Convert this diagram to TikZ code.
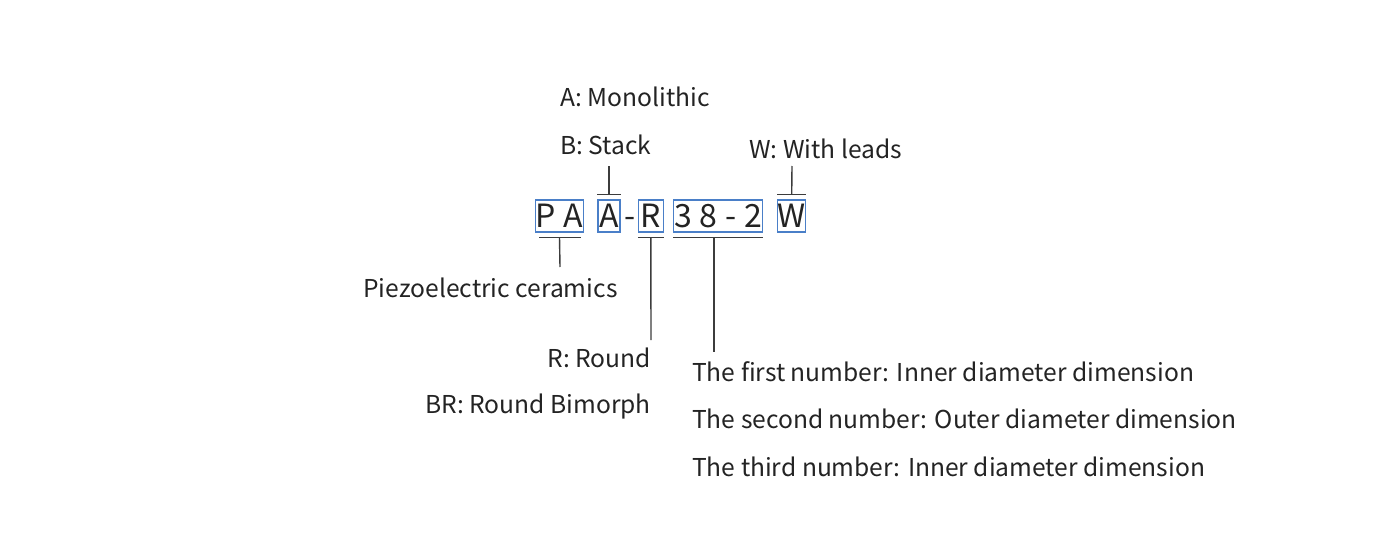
\documentclass[tikz,border=0pt]{standalone}
\usepackage{fontspec}
\setmainfont{Noto Sans CJK SC}
\usetikzlibrary{calc}
\definecolor{boxblue}{RGB}{74,127,200}
\definecolor{leadgray}{RGB}{60,60,60}
\definecolor{inkgray}{RGB}{35,35,35}
\def\gap{\kern8pt}

\begin{document}
\begin{tikzpicture}[x=1pt,y=-1pt,
	code/.style={draw=boxblue, line width=1.1pt, inner sep=0pt, minimum height=32pt, text=inkgray, font=\fontsize{32}{32}\selectfont},
	lbl/.style={inner sep=0pt, text=inkgray, font=\fontsize{24.6}{28}\selectfont},
	lead/.style={leadgray, line width=1.4pt}]
		\useasboundingbox (0,0) rectangle (1396,543);
		%%%%% CODE %%%%%
		\node[code, minimum width=45pt] (pa) at (559.5,216) {P\gap A};
		\node[code, minimum width=22pt] (a) at (609,216) {A};
		\node[inner sep=0pt, text=inkgray, font=\fontsize{32}{32}\selectfont, anchor=base] (dash) at (630,227.5) {-};
		\node[code, minimum width=25pt] (r) at (650.8,216) {R};
		\node[code, minimum width=89pt] (num) at (718.3,216) {3\gap 8\gap -\gap 2};
		\node[code, minimum width=28pt] (w) at (791.7,216) {W};
		
		%%%%% LABELS %%%%%
		\node[lbl, anchor=base west] (mono) at (560,106.7) {A: Monolithic};
		\node[lbl, anchor=base west] (stack) at (560,154) {B: Stack};
		\node[lbl, anchor=base west] (leads) at (749,158.3) {W: With leads};
		\node[lbl, anchor=base west] (piezo) at (363,297.3) {Piezoelectric ceramics};
		\node[lbl, anchor=base east] (round) at (651,367.3) {R: Round};
		\node[lbl, anchor=base east] (bimorph) at (651,413.3) {BR: Round Bimorph};
		\node[lbl, anchor=base west] (first) at (692,381) {The first number: Inner diameter dimension};
		\node[lbl, anchor=base west] (second) at (692,428.5) {The second number: Outer diameter dimension};
		\node[lbl, anchor=base west] (third) at (692,476.5) {The third number: Inner diameter dimension};
		
		%%%%% LEADS %%%%%
		\coordinate (a end) at (609,166);
		\coordinate (w end) at (792,166);
		\coordinate (pa end) at (560,267);
		\coordinate (r end) at (651,340);
		\coordinate (num end) at (714,352);
		
		\draw[lead] ([yshift=5pt]a.north west) -- ([yshift=5pt]a.north east);
		\draw[lead] ([yshift=5pt]a.north) -- (a end);
		\draw[lead] ([yshift=5pt]w.north west) -- ([yshift=5pt]w.north east);
		\draw[lead] ([yshift=5pt]w.north) -- (w end);
		
		\draw[lead] ([xshift=4pt,yshift=-5pt]pa.south west) -- ([xshift=-3pt,yshift=-5pt]pa.south east);
		\draw[lead] ([yshift=-5pt]pa.south) -- (pa end);
		\draw[lead] ([yshift=-5pt]r.south west) -- ([yshift=-5pt]r.south east);
		\draw[lead] ([yshift=-5pt]r.south) -- (r end);
		\draw[lead] ([yshift=-5pt]num.south west) -- ([yshift=-5pt]num.south east);
		\draw[lead] ([yshift=-5pt]num.south -| num end) -- (num end);
\end{tikzpicture}
\end{document}
